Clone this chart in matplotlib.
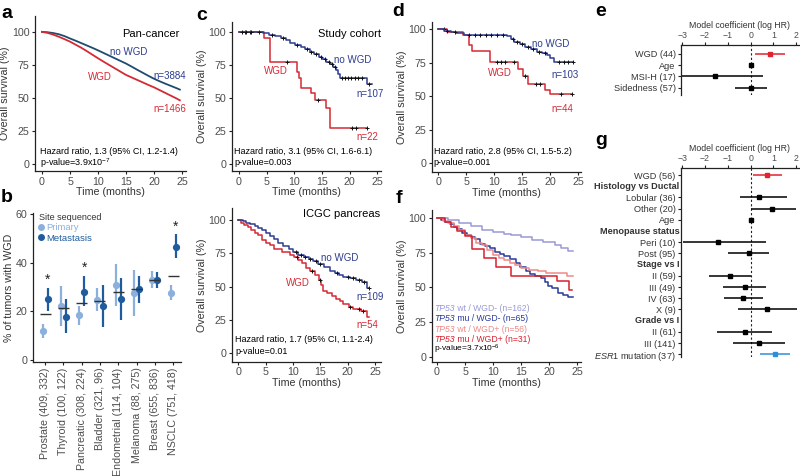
import matplotlib
matplotlib.use("Agg")
import matplotlib.pyplot as plt
import numpy as np
from matplotlib.lines import Line2D

plt.rcParams['font.family'] = ['Liberation Sans', 'DejaVu Sans']
plt.rcParams['mathtext.fontset'] = 'custom'
plt.rcParams['mathtext.rm'] = 'Liberation Sans'
plt.rcParams['mathtext.it'] = 'Liberation Sans:italic'

# ---- panel a: pan-cancer KM ----
a_t = [0, 1, 2, 3, 4, 5, 6, 7, 8, 9, 10, 11, 12, 13, 14, 15, 16, 17, 18, 19, 20, 21, 22, 23, 24, 24.6]
a_nowgd = [100, 99.7, 99.1, 98.2, 96.8, 95.0, 93.3, 91.5, 89.7, 87.9, 86.0, 84.0, 82.0, 80.0, 78.0,
           76.0, 73.7, 71.3, 69.0, 66.7, 64.5, 62.6, 60.8, 59.1, 57.4, 56.3]
a_wgd = [100, 99.2, 97.9, 96.3, 94.5, 92.6, 90.3, 88.0, 85.4, 82.7, 80.0, 77.4, 74.9, 72.4, 69.9,
         67.4, 65.5, 63.6, 61.7, 59.8, 58.0, 55.9, 53.8, 51.7, 49.6, 48.2]

# ---- panel c top: study cohort ----
c1_nowgd_t = [0, 4.4, 5.5, 6.5, 7.6, 8.5, 9.2, 10.2, 11.2, 12.0, 12.8, 13.6, 14.4, 15.1, 15.8, 16.4,
              17.0, 17.5, 17.9, 18.3, 23.1, 24.0]
c1_nowgd_s = [100, 98.8, 97.6, 96.4, 95.2, 93.5, 91.2, 89.9, 88.4, 86.8, 85.0, 83.1, 81.2, 79.3, 77.4,
              75.4, 73.2, 71.0, 68.0, 64.9, 60.5, 60.5]
c1_nowgd_cens = [0.5, 1.2, 2.2, 3.6, 6.0, 8.0, 10.5, 12.3, 13.0, 14.0, 14.8, 15.5, 16.2, 16.8, 17.3,
                 18.7, 19.2, 19.7, 20.2, 21.0, 21.5, 22.3, 23.6]
c1_wgd_t = [0, 4.5, 5.6, 10.4, 10.9, 11.3, 13.1, 13.7, 15.8, 16.5, 23.1]
c1_wgd_s = [100, 95.5, 77.4, 69.8, 64.9, 57.3, 53.5, 48.5, 42.2, 27.1, 27.1]
c1_wgd_cens = [1.0, 2.0, 8.7, 14.2, 20.5, 21.2, 23.1]

# ---- panel c bottom: ICGC pancreas ----
c2_nowgd_t = [0, 0.8, 1.5, 2.2, 3.0, 3.6, 4.3, 5.0, 5.8, 6.5, 7.3, 8.2, 9.2, 10.1, 11.0, 12.0, 13.0,
              13.7, 14.6, 15.6, 16.8, 17.6, 18.4, 19.2, 20.5, 21.6, 22.6, 23.6, 23.9]
c2_nowgd_s = [100, 99, 98, 97, 95.5, 94, 92.5, 90, 88, 85.5, 83, 80.5, 78, 76, 74, 72, 70.5, 69, 67,
              65, 62, 60.5, 59, 57.5, 56.5, 55, 53.5, 49, 49]
c2_nowgd_cens = [10.5, 11.5, 12.2, 13.1, 14.2, 15.0, 18.0, 20.0, 21.0, 22.0, 23.0, 23.9]
c2_wgd_t = [0, 0.5, 1.0, 1.7, 2.3, 3.0, 3.6, 4.3, 5.0, 5.8, 6.5, 8.0, 9.4, 10.2, 10.9, 11.6, 12.4,
            13.2, 14.0, 14.7, 15.2, 15.5, 16.3, 17.2, 17.9, 18.6, 19.2, 20.2, 21.0, 22.5, 23.6, 23.9]
c2_wgd_s = [100, 98, 96.5, 94.5, 92.5, 90.5, 88.5, 85, 83, 81, 78, 76, 74, 72, 70, 67.5, 64, 61.5,
            58.5, 55, 51, 47, 45, 43, 41, 39, 37, 35, 33.5, 31.5, 27.5, 27.5]
c2_wgd_cens = [10.7, 13.5, 15.0, 20.5, 22.0, 22.8]

# ---- panel d ----
d_nowgd_t = [0, 1.0, 2.2, 3.2, 4.6, 12.2, 13.0, 13.6, 14.6, 15.5, 16.5, 17.6, 18.5, 19.4, 20.0, 20.6, 24.0]
d_nowgd_s = [100, 99, 98, 97, 95.7, 94.7, 92.5, 90.7, 89, 87, 85, 83.2, 82, 80.7, 78.5, 75.7, 75.7]
d_nowgd_cens = [1.5, 3.0, 5.5, 6.5, 7.5, 8.5, 9.5, 10.5, 11.5, 13.3, 14.0, 15.0, 16.0, 17.0, 18.0,
                19.0, 21.5, 22.5, 23.2, 24.0]
d_wgd_t = [0, 1.5, 4.4, 5.5, 6.0, 9.2, 14.3, 15.2, 16.1, 19.1, 20.0, 23.9]
d_wgd_s = [100, 97.7, 95.4, 88.6, 84, 75.5, 70.5, 65, 59, 54.3, 52.0, 52.0]
d_wgd_cens = [1.0, 10.5, 11.2, 12.0, 13.5, 15.5, 17.5, 18.2, 22.0, 23.9]

# ---- panel f ----
f_wt_neg_t = [0, 2, 4, 6, 8, 10, 12, 13.2, 15, 17, 19, 21, 22.2, 23.3, 24.2]
f_wt_neg_s = [100, 98.5, 96.5, 94, 91.5, 90, 88.5, 87.7, 86, 84, 82.5, 80.5, 78.5, 76.5, 76]
f_mu_neg_t = [0, 0.7, 1.5, 2.3, 3.0, 3.6, 4.5, 5.3, 6.0, 6.8, 7.6, 8.5, 9.4, 10.3, 11.2, 12.0, 13.0,
              14.1, 14.8, 15.8, 16.6, 17.5, 18.6, 19.2, 19.8, 20.6, 21.6, 22.5, 23.4, 24.2]
f_mu_neg_s = [100, 98.5, 96.9, 95.4, 93.8, 92.3, 89.2, 87.7, 86.2, 84.6, 81.5, 80.0, 78.5, 75.4, 73.8,
              72.3, 70.8, 67.7, 64.6, 61.5, 60.0, 58.5, 56.9, 53.8, 50.8, 49.2, 46.2, 44.6, 43.1, 43.1]
f_wt_pos_t = [0, 1, 2, 3, 4, 5, 6, 7, 8, 9, 10, 11, 12, 13, 14, 15, 16.5, 18, 19.5, 23.2, 24.2]
f_wt_pos_s = [100, 98.2, 96.4, 94.6, 91.1, 87.5, 85.7, 82.1, 80.4, 76.8, 73.2, 71.4, 69.6, 67.9, 66.1,
              64.3, 62.5, 61.6, 60.7, 57.9, 57.9]
f_mu_pos_t = [0, 1.5, 2.5, 3.5, 5.0, 6.2, 8.4, 10.6, 13.2, 21.5, 23.6, 24.1]
f_mu_pos_s = [100, 96.8, 93.5, 90.3, 87.1, 77.4, 71.0, 64.5, 58.1, 54.8, 48.0, 48.0]
f_groups = [' wt / WGD- (n=162)', ' mu / WGD- (n=65)', ' wt / WGD+ (n=56)', ' mu / WGD+ (n=31)']

# ---- panel b ----
b_sites = ['Prostate (409, 332)', 'Thyroid (100, 122)', 'Pancreatic (308, 224)', 'Bladder (321, 96)',
           'Endometrial (114, 104)', 'Melanoma (88, 275)', 'Breast (655, 836)', 'NSCLC (751, 418)']
b_prim = [12, 22.3, 18.6, 24.7, 30.8, 27.7, 32.9, 27.7]
b_prim_lo = [8.9, 14, 14.4, 20, 22, 18, 29.5, 24.7]
b_prim_hi = [15, 30.4, 22, 29.5, 39.5, 37, 36.6, 30.8]
b_met = [24.9, 17.8, 28, 22, 25, 29, 32.9, 46.6]
b_met_lo = [20.1, 11, 22, 13.4, 16.5, 23.3, 29.5, 41.8]
b_met_hi = [29.7, 25, 34.5, 31, 33.5, 34.5, 36.2, 51.6]
b_all = [18.8, 21.2, 23.3, 24.2, 28, 29, 33, 34.5]
b_star = [True, False, True, False, False, False, False, True]

# ---- panel e ----
e_labels = ['WGD (44)', 'Age', 'MSI-H (17)', 'Sidedness (57)']
e_est = [0.85, 0.0, -1.57, 0.0]
e_lo = [0.19, -0.03, -3.07, -0.69]
e_hi = [1.5, 0.03, 0.55, 0.7]
e_col = ['#e0232e', 'black', 'black', 'black']

# ---- panel g ----
g_labels = ['WGD (56)', 'Histology vs Ductal', 'Lobular (36)', 'Other (20)', 'Age', 'Menopause status',
            'Peri (10)', 'Post (95)', 'Stage vs I', 'II (59)', 'III (49)', 'IV (63)', 'X (9)',
            'Grade vs I', 'II (61)', 'III (141)', r'$\mathit{ESR1}$ mutation (37)']
g_header = [False, True, False, False, False, True, False, False, True, False, False, False, False,
            True, False, False, False]
g_est = [0.7, 0, 0.36, 0.95, 0.0, 0, -1.42, -0.07, 0, -0.91, -0.25, -0.32, 0.73, 0, -0.25, 0.36, 1.07]
g_lo = [0.11, 0, -0.47, 0.0, -0.03, 0, -2.95, -0.98, 0, -1.82, -1.2, -1.16, -0.54, 0, -1.46, -0.76, 0.41]
g_hi = [1.36, 0, 1.58, 2.0, 0.03, 0, 0.66, 0.82, 0, 0.0, 0.67, 0.55, 2.05, 0, 0.93, 1.5, 1.72]
g_col = ['#e0232e'] + ['black'] * 15 + ['#2b8fdc']

NAVY = '#2e3c8f'
RED = '#d42a34'
TICK = '#4d4d4d'
TXT = '#333333'

W, H = 800, 476
fig = plt.figure(figsize=(8, 4.76), dpi=100)


def add_px(l, t, r, b):
    return fig.add_axes([l / W, 1 - b / H, (r - l) / W, (b - t) / H])


def style(ax):
    for s in ['top', 'right']:
        ax.spines[s].set_visible(False)
    for s in ['left', 'bottom']:
        ax.spines[s].set_color('#222222')
        ax.spines[s].set_linewidth(0.9)
    ax.tick_params(labelsize=7.7, colors='#222222', labelcolor=TICK, length=2.5, width=0.8, pad=1.5)


def km_axes(l, t, r, b, xlim, ylim):
    ax = add_px(l, t, r, b)
    style(ax)
    ax.set_xlim(*xlim)
    ax.set_ylim(*ylim)
    ax.set_xticks([0, 5, 10, 15, 20, 25])
    ax.set_yticks([0, 25, 50, 75, 100])
    ax.set_xlabel('Time (months)', fontsize=7.7, color=TXT, labelpad=0.5)
    ax.set_ylabel('Overall survival (%)', fontsize=7.7, color=TXT, labelpad=1)
    return ax


def km(ax, t, s, color, cens=None, lw=1.1):
    ax.step(t, s, where='post', color=color, lw=lw)
    if cens is not None:
        t = np.asarray(t)
        s = np.asarray(s)
        idx = np.searchsorted(t, cens, side='right') - 1
        ax.plot(cens, s[idx], '+', color='#111111', ms=3, mew=0.7, ls='none')


def label(ax, x, y, txt, color='black', size=7, ha='left'):
    return ax.text(x, y, txt, color=color, fontsize=size, ha=ha, va='center')


# ---- a ----
ax = add_px(35, 16, 186, 171)
style(ax)
ax.set_xlim(-1.25, 25.7)
ax.set_ylim(-5.3, 112)
ax.set_xticks([0, 5, 10, 15, 20, 25])
ax.set_yticks([0, 25, 50, 75, 100])
ax.set_xlabel('Time (months)', fontsize=7.7, color=TXT, labelpad=0.5)
ax.set_ylabel('Overall survival (%)', fontsize=7.7, color=TXT, labelpad=1)
ax.plot(a_t, a_nowgd, color='#1f4b6e', lw=1.3)
ax.plot(a_t, a_wgd, color=RED, lw=1.3)
label(ax, 24.6, 98.5, 'Pan-cancer', size=8, ha='right')
label(ax, 12.1, 84.6, 'no WGD', NAVY)
label(ax, 8.2, 66, 'WGD', RED)
label(ax, 19.8, 66.7, 'n=3884', NAVY)
label(ax, 19.8, 41.7, 'n=1466', RED)
label(ax, -0.4, 9.8, 'Hazard ratio, 1.3 (95% CI, 1.2-1.4)', size=6.5)
label(ax, -0.4, 0.8, r'p-value=3.9x10$^{-7}$', size=6.5)

# ---- c top ----
ax = km_axes(231.7, 22, 381, 171, (-1.32, 25.68), (-5.05, 107.3))
km(ax, c1_wgd_t, c1_wgd_s, RED, c1_wgd_cens)
km(ax, c1_nowgd_t, c1_nowgd_s, NAVY, c1_nowgd_cens)
label(ax, 25.7, 98.3, 'Study cohort', size=8, ha='right')
label(ax, 17.2, 78.7, 'no WGD', NAVY)
label(ax, 4.5, 70.4, 'WGD', RED)
label(ax, 21.2, 53, 'n=107', NAVY)
label(ax, 21.2, 20.6, 'n=22', RED)
label(ax, -0.9, 10, 'Hazard ratio, 3.1 (95% CI, 1.6-6.1)', size=6.5)
label(ax, -0.9, 1, 'p-value=0.003', size=6.5)

# ---- c bottom ----
ax = km_axes(231.7, 208, 381, 361.7, (-1.2, 26.1), (-6.3, 109))
km(ax, c2_wgd_t, c2_wgd_s, RED, c2_wgd_cens)
km(ax, c2_nowgd_t, c2_nowgd_s, NAVY, c2_nowgd_cens)
label(ax, 26.0, 104.5, 'ICGC pancreas', size=8, ha='right')
label(ax, 15.1, 71.7, 'no WGD', NAVY)
label(ax, 8.8, 52.5, 'WGD', RED)
label(ax, 21.6, 42.5, 'n=109', NAVY)
label(ax, 21.6, 21.2, 'n=54', RED)
label(ax, -0.6, 10, 'Hazard ratio, 1.7 (95% CI, 1.1-2.4)', size=6.5)
label(ax, -0.6, 1, 'p-value=0.01', size=6.5)

# ---- d ----
ax = km_axes(431.7, 22, 581, 171.7, (-1.18, 25.5), (-6.3, 105.4))
km(ax, d_wgd_t, d_wgd_s, RED, d_wgd_cens)
km(ax, d_nowgd_t, d_nowgd_s, NAVY, d_nowgd_cens)
label(ax, 16.8, 89, 'no WGD', NAVY)
label(ax, 8.9, 67.6, 'WGD', RED)
label(ax, 20.3, 66, 'n=103', NAVY)
label(ax, 20.3, 40.5, 'n=44', RED)
label(ax, -0.8, 8.4, 'Hazard ratio, 2.8 (95% CI, 1.5-5.2)', size=6.5)
label(ax, -0.8, 0.2, 'p-value=0.001', size=6.5)

# ---- f ----
F_COLS = ['#9a9ad6', '#2a3a98', '#ee8a8a', '#d7202d']
ax = km_axes(431.7, 210, 581, 361.7, (-0.95, 25.7), (-3.6, 105.8))
km(ax, f_wt_neg_t, f_wt_neg_s, F_COLS[0])
km(ax, f_mu_neg_t, f_mu_neg_s, F_COLS[1])
km(ax, f_wt_pos_t, f_wt_pos_s, F_COLS[2])
km(ax, f_mu_pos_t, f_mu_pos_s, F_COLS[3])
for txt, col, y in zip(f_groups, F_COLS, [34.6, 27.2, 19.8, 12.4]):
    t1 = ax.text(-0.5, y, 'TP53', color=col, fontsize=6.2, style='italic', va='center', ha='left')
    ax.annotate(txt, xy=(1, 0.5), xycoords=t1, va='center', ha='left', color=col, fontsize=6.2)
label(ax, -0.5, 5.4, r'p-value=3.7x10$^{-6}$', size=6.0)

# ---- b ----
ax = add_px(33, 213, 181, 362)
style(ax)
x = np.arange(len(b_sites))
off = 0.14
ax.vlines(x - off, b_prim_lo, b_prim_hi, color='#8cb0dc', lw=1.6)
ax.plot(x - off, b_prim, 'o', color='#8cb0dc', ms=4.2)
ax.vlines(x + off, b_met_lo, b_met_hi, color='#1f5c9e', lw=1.6)
ax.plot(x + off, b_met, 'o', color='#1f5c9e', ms=4.2)
ax.hlines(b_all, x - 0.3, x + 0.3, color='#333333', lw=1.0)
for i, st in enumerate(b_star):
    if st:
        ax.text(i + off, b_met_hi[i] + 3.2, '*', ha='center', va='center', fontsize=10, color='#222222')
ax.set_xlim(-0.66, 7.43)
ax.set_ylim(-0.8, 60.4)
ax.set_yticks([0, 20, 40, 60])
ax.set_xticks(x)
ax.set_xticklabels(b_sites, rotation=90)
ax.set_ylabel('% of tumors with WGD', fontsize=7.7, color=TXT, labelpad=1)
handles = [Line2D([], [], marker='o', ls='none', color='#8cb0dc', ms=4),
           Line2D([], [], marker='o', ls='none', color='#1f5c9e', ms=4)]
leg = ax.legend(handles, ['Primary', 'Metastasis'], title='Site sequenced', loc='upper left',
                bbox_to_anchor=(0.0, 1.04), frameon=False, fontsize=6.8, title_fontsize=6.5,
                handlelength=0.5, handletextpad=0.3, labelspacing=0.15, borderaxespad=0.2,
                labelcolor=['#8cb0dc', '#1f5c9e'], alignment='left')
leg.get_title().set_color(TXT)


# ---- forest plots ----
def forest(l, t, r, b, ylim, labels, est, lo, hi, cols, header=None):
    ax = add_px(l, t, r, b)
    for s in ['bottom', 'right']:
        ax.spines[s].set_visible(False)
    for s in ['top', 'left']:
        ax.spines[s].set_color('#222222')
        ax.spines[s].set_linewidth(0.9)
    ax.xaxis.tick_top()
    ax.xaxis.set_label_position('top')
    ax.set_xlim(-3.07, 2.12)
    ax.set_ylim(*ylim)
    ax.set_xticks([-3, -2, -1, 0, 1, 2])
    ax.set_xlabel('Model coefficient (log HR)', fontsize=6.3, color=TXT, labelpad=2)
    ax.tick_params(labelsize=6.3, colors='#222222', labelcolor=TICK, length=2.5, width=0.8, pad=1.2)
    ax.axvline(0, color='#222222', lw=0.8, ls=(0, (2, 2)))
    if header is None:
        header = [False] * len(labels)
    rows = [i for i in range(len(labels)) if not header[i]]
    for i in rows:
        ax.plot([lo[i], hi[i]], [i, i], color=cols[i], lw=1.1, solid_capstyle='butt')
        ax.plot(est[i], i, 's', color=cols[i], ms=3.2)
    ax.set_yticks(rows)
    ax.set_yticklabels([labels[i] for i in rows], fontsize=6.6, color='#333333')
    for i in range(len(labels)):
        if header[i]:
            ax.text(-0.01, i, labels[i], transform=ax.get_yaxis_transform(), ha='right', va='center',
                    fontsize=6.6, fontweight='bold', color='#333333')
    return ax


forest(680.7, 45, 799, 95, (3.66, -0.8), e_labels, e_est, e_lo, e_hi, e_col)
forest(680.7, 168.3, 799, 357, (16.25, -0.6), g_labels, g_est, g_lo, g_hi, g_col, g_header)

# ---- panel letters ----
for letter, px, py in [('a', 1, 13), ('b', 1, 197), ('c', 196, 15), ('d', 392, 12),
                       ('e', 595, 11), ('f', 396, 198), ('g', 595, 140)]:
    fig.text(px / W, 1 - py / H, letter, fontsize=14, fontweight='bold', va='center', ha='left')

fig.savefig('out.png', dpi=100)
